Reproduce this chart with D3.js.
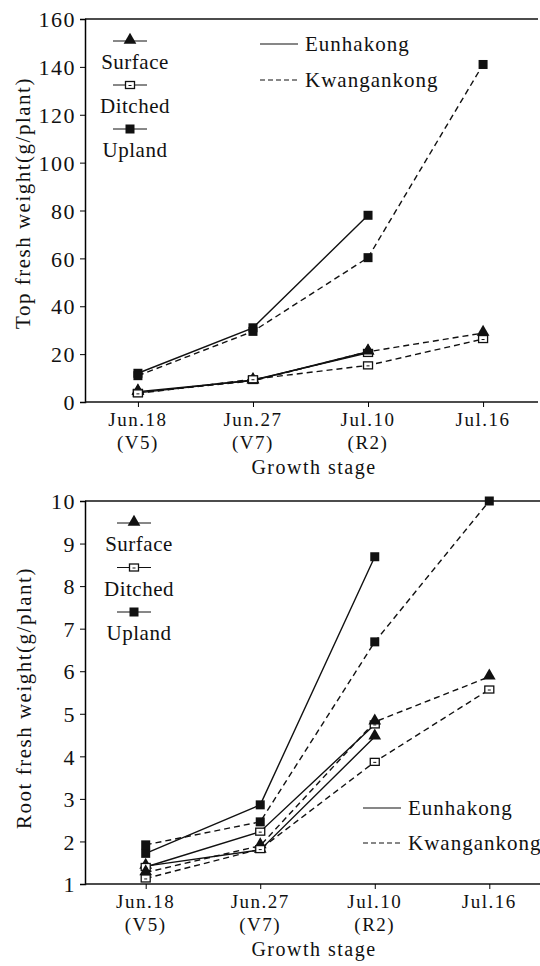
<!DOCTYPE html>
<html>
<head>
  <meta charset="utf-8">
  <title>Fresh weight by growth stage</title>
  <script src="https://cdn.jsdelivr.net/npm/d3@7"></script>
  <style>
    body { margin: 0; background: #fff; }
    svg text { font-family: "Liberation Serif", "Times New Roman", Times, "DejaVu Serif", serif; fill: #111; }
  </style>
</head>
<body>
<script>
// categories
var dates = ["Jun.18", "Jun.27", "Jul.10", "Jul.16"];
var stages = ["(V5)", "(V7)", "(R2)", ""];

// top fresh weight (g/plant)
var topEunSurface = [4.3, 9.0, 21.0, null];
var topEunDitched = [3.8, 9.2, 20.5, null];
var topEunUpland  = [12.0, 31.0, 78.0, null];
var topKwaSurface = [4.0, 8.8, 21.0, 28.8];
var topKwaDitched = [3.6, 9.5, 15.3, 26.3];
var topKwaUpland  = [11.0, 29.5, 60.3, 141.0];
var topTicks = [0, 20, 40, 60, 80, 100, 120, 140, 160];

// root fresh weight (g/plant)
var rootEunSurface = [1.42, 1.80, 4.46, null];
var rootEunDitched = [1.40, 2.23, 4.75, null];
var rootEunUpland  = [1.72, 2.86, 8.69, null];
var rootKwaSurface = [1.27, 1.90, 4.81, 5.87];
var rootKwaDitched = [1.13, 1.82, 3.87, 5.57];
var rootKwaUpland  = [1.92, 2.46, 6.69, 10.0];
var rootTicks = [1, 2, 3, 4, 5, 6, 7, 8, 9, 10];

var svg = d3.select("body").append("svg")
    .attr("width", 540).attr("height", 966)
    .attr("font-family", "Liberation Serif, serif");

var dash = "6,4";

function marker(g, type, x, y) {
  if (type == "Surface") {
    g.append("path").attr("d", d3.symbol(d3.symbolTriangle, 70)())
      .attr("transform", "translate(" + x + "," + (y - 1) + ")").attr("fill", "#111");
  } else if (type == "Upland") {
    g.append("rect").attr("x", x - 4.5).attr("y", y - 4.5).attr("width", 9).attr("height", 9).attr("fill", "#111");
  } else {
    g.append("rect").attr("x", x - 4.5).attr("y", y - 3.5).attr("width", 9).attr("height", 7)
      .attr("fill", "#fff").attr("stroke", "#111").attr("stroke-width", 1.3);
    g.append("line").attr("x1", x - 1.5).attr("x2", x + 1.5).attr("y1", y + 0.5).attr("y2", y + 0.5)
      .attr("stroke", "#111").attr("stroke-width", 1);
  }
}

function drawPanel(opt) {
  var g = svg.append("g");
  var x = d3.scalePoint().domain(dates).range(opt.xRange).padding(opt.pad);
  var y = d3.scaleLinear().domain(opt.yDomain).range([opt.bottom, opt.top]);

  // frame: top line, left axis, bottom axis
  g.append("line").attr("x1", opt.left).attr("x2", opt.right).attr("y1", opt.top).attr("y2", opt.top)
    .attr("stroke", "#111").attr("stroke-width", 1.5);

  var ya = g.append("g").attr("transform", "translate(" + opt.left + ",0)")
    .call(d3.axisLeft(y).tickValues(opt.ticks).tickSize(5).tickPadding(4).tickFormat(d3.format("d")));
  ya.attr("font-family", null).attr("font-size", null);
  ya.select(".domain").attr("stroke-width", 1.5);
  ya.selectAll("text").style("font-size", "22px").style("letter-spacing", "1.5px").attr("dy", "0.35em");

  g.append("line").attr("x1", opt.left).attr("x2", opt.right).attr("y1", opt.bottom).attr("y2", opt.bottom)
    .attr("stroke", "#111").attr("stroke-width", 1.5);
  var xa = g.append("g").attr("transform", "translate(0," + opt.bottom + ")")
    .call(d3.axisBottom(x).tickSize(5).tickFormat(""));
  xa.select(".domain").remove();

  g.selectAll(".dl").data(dates).enter().append("text")
    .attr("x", function(d) { return x(d); }).attr("y", opt.bottom + 24)
    .attr("text-anchor", "middle").style("font-size", "19px").style("letter-spacing", "1.5px")
    .text(function(d) { return d; });
  g.selectAll(".sl").data(stages).enter().append("text")
    .attr("x", function(d, i) { return x(dates[i]); }).attr("y", opt.bottom + 47)
    .attr("text-anchor", "middle").style("font-size", "19px").style("letter-spacing", "1.5px")
    .text(function(d) { return d; });

  g.append("text").attr("x", 314).attr("y", opt.bottom + 72).attr("text-anchor", "middle")
    .style("font-size", "20px").style("letter-spacing", "1.5px").text("Growth stage");

  g.append("text").attr("transform", "translate(" + opt.titleX + "," + opt.titleY + ") rotate(-90)")
    .attr("text-anchor", "middle").attr("dy", "0.35em")
    .style("font-size", "21px").style("letter-spacing", "1.5px")
    .text(opt.title);

  // series
  var line = d3.line().defined(function(d) { return d != null; })
    .x(function(d, i) { return x(dates[i]); }).y(function(d) { return y(d); });

  opt.series.forEach(function(s) {
    g.append("path").datum(s.values).attr("d", line).attr("fill", "none")
      .attr("stroke", "#111").attr("stroke-width", 1.4)
      .attr("stroke-dasharray", s.variety == "Kwangankong" ? dash : null);
  });
  opt.series.forEach(function(s) {
    s.values.forEach(function(v, i) {
      if (v != null) marker(g, s.type, x(dates[i]), y(v));
    });
  });

  // treatment legend
  var types = ["Surface", "Ditched", "Upland"];
  types.forEach(function(t, i) {
    var ly = opt.legY + i * opt.legStep;
    g.append("line").attr("x1", opt.legX - 17).attr("x2", opt.legX + 17).attr("y1", ly).attr("y2", ly)
      .attr("stroke", "#111").attr("stroke-width", 1);
    marker(g, t, opt.legX, ly);
    g.append("text").attr("x", opt.legX + 5).attr("y", ly + 28).attr("text-anchor", "middle")
      .style("font-size", "21px").style("letter-spacing", "0.5px").text(t);
  });

  // variety legend
  ["Eunhakong", "Kwangankong"].forEach(function(v, i) {
    var ly = opt.varY + i * opt.varStep;
    g.append("line").attr("x1", opt.varX).attr("x2", opt.varX + 38).attr("y1", ly).attr("y2", ly)
      .attr("stroke", "#111").attr("stroke-width", 1.2)
      .attr("stroke-dasharray", i == 1 ? "5,3" : null);
    g.append("text").attr("x", opt.varX + 45).attr("y", ly).attr("dy", "0.35em")
      .style("font-size", "21px").style("letter-spacing", "1px").text(v);
  });
}

drawPanel({
  left: 85, right: 538, top: 19, bottom: 402,
  xRange: [85, 536], pad: 0.46,
  yDomain: [0, 160], ticks: topTicks,
  title: "Top fresh weight(g/plant)", titleX: 23, titleY: 203,
  legX: 130, legY: 41, legStep: 44,
  varX: 260, varY: 44, varStep: 36,
  series: [
    {variety: "Eunhakong", type: "Surface", values: topEunSurface},
    {variety: "Eunhakong", type: "Ditched", values: topEunDitched},
    {variety: "Eunhakong", type: "Upland", values: topEunUpland},
    {variety: "Kwangankong", type: "Surface", values: topKwaSurface},
    {variety: "Kwangankong", type: "Ditched", values: topKwaDitched},
    {variety: "Kwangankong", type: "Upland", values: topKwaUpland}
  ]
});

drawPanel({
  left: 85, right: 540, top: 501, bottom: 884,
  xRange: [85, 550], pad: 0.53,
  yDomain: [1, 10], ticks: rootTicks,
  title: "Root fresh weight(g/plant)", titleX: 24, titleY: 698,
  legX: 134, legY: 523, legStep: 44.5,
  varX: 363, varY: 808, varStep: 35,
  series: [
    {variety: "Eunhakong", type: "Surface", values: rootEunSurface},
    {variety: "Eunhakong", type: "Ditched", values: rootEunDitched},
    {variety: "Eunhakong", type: "Upland", values: rootEunUpland},
    {variety: "Kwangankong", type: "Surface", values: rootKwaSurface},
    {variety: "Kwangankong", type: "Ditched", values: rootKwaDitched},
    {variety: "Kwangankong", type: "Upland", values: rootKwaUpland}
  ]
});
</script>
</body>
</html>
